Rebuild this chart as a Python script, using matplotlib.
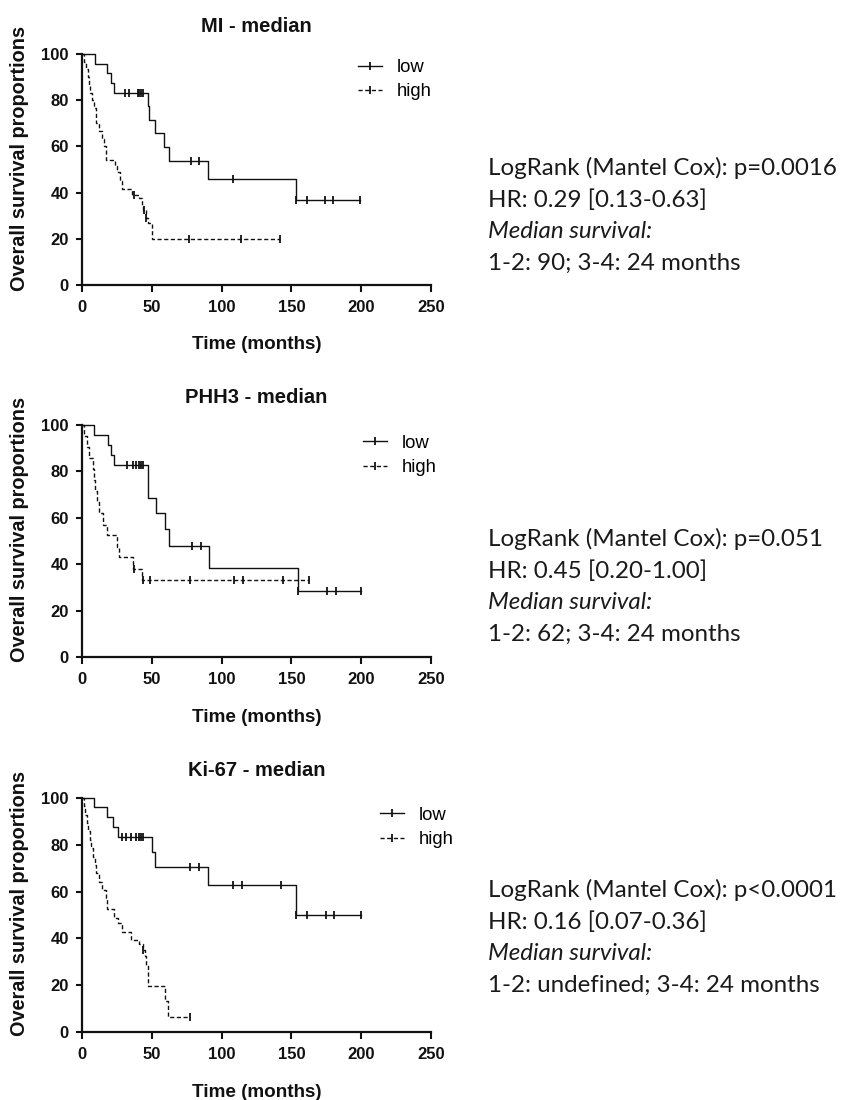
import numpy as np
import matplotlib.pyplot as plt
from matplotlib.lines import Line2D

plt.rcParams['font.family'] = ['Liberation Sans', 'DejaVu Sans']

# MI - median
mi_low_t = [0, 9.5, 18, 21, 23, 47, 48, 52, 59, 62, 90, 153]
mi_low_s = [100, 95.8, 91.7, 87.5, 83.3, 77.4, 71.6, 65.9, 59.8, 53.6, 46.1, 36.8]
mi_low_c = [31, 34, 40, 41, 42, 44, 78, 84, 108, 153.5, 161, 174, 180, 199]
mi_high_t = [0, 1.5, 3, 4, 5, 6, 7, 8.5, 10, 12, 14, 16, 17.5, 23.5, 25, 27, 29, 36, 41, 43, 44, 46, 47.5, 50]
mi_high_s = [100, 96.7, 93.3, 90, 86.7, 83.3, 80, 76.7, 70, 66.7, 63.3, 60, 54, 51.5, 49, 45, 41.4, 39, 37.5, 34.5, 32.5, 29, 26.7, 20]
mi_high_c = [37, 44.5, 46, 77, 114, 142]

# PHH3 - median
ph_low_t = [0, 8.8, 18.4, 21, 22.7, 47, 47.5, 53.2, 59.4, 62.5, 90.7, 154.5]
ph_low_s = [100, 95.7, 91.3, 87, 82.6, 76, 68.6, 62, 55.1, 48, 38.5, 28.5]
ph_low_c = [32, 36.5, 39, 41, 42, 43.4, 79, 85, 154.6, 175.7, 182, 200]
ph_high_t = [0, 1.7, 3.3, 5.3, 7.6, 8.8, 9.5, 10.5, 12.4, 15.3, 17.7, 24.8, 26.7, 36.7, 43]
ph_high_s = [100, 95.2, 90.5, 85.7, 81, 76.2, 71.4, 66.7, 61.9, 57.1, 52.4, 47.6, 42.9, 38.1, 33.3]
ph_high_c = [37.5, 44, 48.7, 77.6, 109, 115.6, 143.8, 162.8]

# Ki-67 - median
ki_low_t = [0, 8.8, 17.7, 22, 26, 50.1, 52.5, 90, 153.3]
ki_low_s = [100, 96, 92, 87.5, 83.3, 77, 70.4, 62.7, 50.2]
ki_low_c = [28.6, 31.5, 35, 38.7, 41, 42.2, 43.4, 77.6, 83.5, 108, 114.4, 142.5, 153.5, 161.4, 174.6, 180.5, 199.6]
ki_high_t = [0, 1.5, 2.5, 3.5, 4.5, 5.5, 6.5, 8, 9, 10, 12, 14.5, 17, 18, 23, 25.5, 29, 35, 41, 43.5, 45, 46, 47.5, 59.4, 61.3]
ki_high_s = [100, 96.4, 92.9, 89.3, 85.7, 82.1, 78.6, 75, 71.4, 67.9, 64.3, 60.7, 57.1, 52.5, 48.9, 46.4, 42.9, 39.3, 37.5, 35, 32.5, 28.6, 19.8, 13.2, 6.6]
ki_high_c = [44, 77.3]

titles = ['MI - median', 'PHH3 - median', 'Ki-67 - median']
stats = [
    ['LogRank (Mantel Cox): p=0.0016', 'HR: 0.29 [0.13-0.63]', 'Median survival:', '1-2: 90; 3-4: 24 months'],
    ['LogRank (Mantel Cox): p=0.051', 'HR: 0.45 [0.20-1.00]', 'Median survival:', '1-2: 62; 3-4: 24 months'],
    ['LogRank (Mantel Cox): p<0.0001', 'HR: 0.16 [0.07-0.36]', 'Median survival:', '1-2: undefined; 3-4: 24 months'],
]
panels = [
    (mi_low_t, mi_low_s, mi_low_c, mi_high_t, mi_high_s, mi_high_c),
    (ph_low_t, ph_low_s, ph_low_c, ph_high_t, ph_high_s, ph_high_c),
    (ki_low_t, ki_low_s, ki_low_c, ki_high_t, ki_high_s, ki_high_c),
]

W, H = 854, 1100
fig = plt.figure(figsize=(W / 100, H / 100), dpi=100)

ax_top = [54, 425, 798]
ax_bot = [285, 657, 1032]
leg_pos = [(0.79, 0.978), (0.805, 0.958), (0.855, 0.962)]
text_base = [175, 546, 897]

dash = (0, (3, 1.8))
ink = '#111111'


def km(ax, t, s, c, ls):
    t = np.array(t, dtype=float)
    s = np.array(s, dtype=float)
    c = np.array(c, dtype=float)
    end = max(t.max(), c.max())
    tx = np.append(t, end)
    sx = np.append(s, s[-1])
    ax.step(tx, sx, where='post', color=ink, lw=1.0, ls=ls, clip_on=False)
    idx = np.searchsorted(t, c, side='right') - 1
    ax.plot(c, s[idx], ls='none', marker='|', ms=6, mew=1.3, color=ink, clip_on=False)


for i in range(3):
    lt, ls_, lc, ht, hs, hc = panels[i]
    left = 82 / W
    width = (431 - 82) / W
    bottom = 1 - ax_bot[i] / H
    height = (ax_bot[i] - ax_top[i]) / H
    ax = fig.add_axes([left, bottom, width, height])
    km(ax, lt, ls_, lc, '-')
    km(ax, ht, hs, hc, dash)
    ax.set_xlim(0, 250)
    ax.set_ylim(0, 100)
    ax.set_xticks(np.arange(0, 251, 50))
    ax.set_yticks(np.arange(0, 101, 20))
    for sp in ['top', 'right']:
        ax.spines[sp].set_visible(False)
    for sp in ['left', 'bottom']:
        ax.spines[sp].set_linewidth(1.6)
        ax.spines[sp].set_color(ink)
    ax.tick_params(axis='x', length=5, width=1.5, pad=6, labelsize=12, colors=ink)
    ax.tick_params(axis='y', length=4.5, width=1.5, pad=5, labelsize=12, colors=ink)
    for lab in ax.get_xticklabels() + ax.get_yticklabels():
        lab.set_fontweight('bold')
    ax.set_title(titles[i], fontsize=14.5, fontweight='bold', pad=16, color=ink)
    ax.set_xlabel('Time (months)', fontsize=13.6, fontweight='bold', color=ink)
    ax.xaxis.set_label_coords(0.5, -0.222)
    ax.set_ylabel('Overall survival proportions', fontsize=14.3, fontweight='bold', va='center', color=ink)
    ax.yaxis.set_label_coords(-0.18, 0.55)

    handles = [
        Line2D([0], [0], color=ink, lw=1.0, marker='|', ms=6, mew=1.3),
        Line2D([0], [0], color=ink, lw=1.0, ls=dash, marker='|', ms=6, mew=1.3),
    ]
    ax.legend(handles, ['low', 'high'], loc='upper left', bbox_to_anchor=leg_pos[i],
              frameon=False, fontsize=13.3, handlelength=1.3, handletextpad=0.8,
              labelspacing=0.4, borderpad=0, borderaxespad=0, numpoints=1)

    for k, line in enumerate(stats[i]):
        y = 1 - (text_base[i] + k * 31.7) / H
        fig.text(488 / W, y, line, fontsize=17.4, family=['Lato', 'DejaVu Sans'],
                 style='italic' if k == 2 else 'normal', va='baseline', ha='left', color='#1a1a1a')

fig.savefig('out.png', dpi=100, facecolor='white')
